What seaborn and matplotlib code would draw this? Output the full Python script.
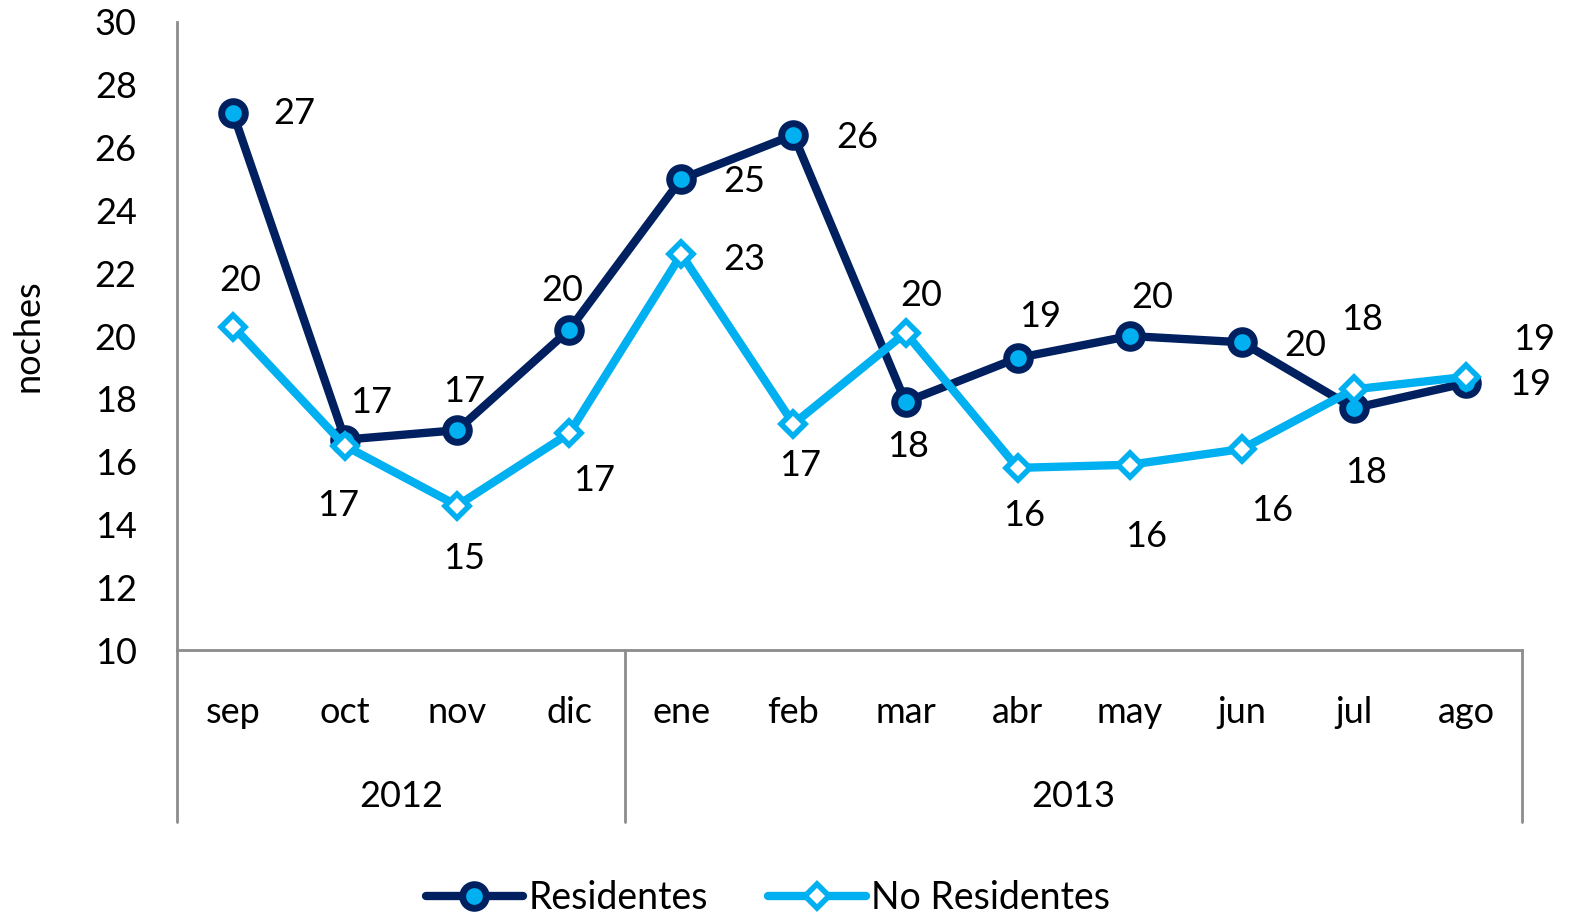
import matplotlib
matplotlib.use("Agg")
import matplotlib.pyplot as plt
import seaborn as sns
import pandas as pd
from matplotlib.lines import Line2D

months = ["sep", "oct", "nov", "dic", "ene", "feb", "mar", "abr", "may", "jun", "jul", "ago"]
years = ["2012", "2013"]
year_sizes = [4, 8]
residentes = [27.1, 16.7, 17.0, 20.2, 25.0, 26.4, 17.9, 19.3, 20.0, 19.8, 17.7, 18.5]
no_residentes = [20.3, 16.5, 14.6, 16.9, 22.6, 17.2, 20.1, 15.8, 15.9, 16.4, 18.3, 18.7]
res_labels = ["27", "17", "17", "20", "25", "26", "18", "19", "20", "20", "18", "19"]
nores_labels = ["20", "17", "15", "17", "23", "17", "20", "16", "16", "16", "18", "19"]

NAVY = "#002060"
CYAN = "#00B0F0"
GRID = "#8C8C8C"
FS = 26

sns.set_theme(style="white")
plt.rcParams["font.family"] = ["Lato", "DejaVu Sans"]
plt.rcParams["text.color"] = "black"

fig = plt.figure(figsize=(15.77, 9.23), dpi=100)
ax = fig.add_axes([177/1577, 1 - 650/923, (1522-177)/1577, (650-22)/923])

df = pd.DataFrame({"x": list(range(len(months))), "res": residentes, "nores": no_residentes})

sns.lineplot(data=df, x="x", y="res", ax=ax, color=NAVY, linewidth=6,
             marker="o", markersize=17, markerfacecolor=CYAN, markeredgecolor=NAVY,
             markeredgewidth=5, zorder=3)
sns.lineplot(data=df, x="x", y="nores", ax=ax, color=CYAN, linewidth=6,
             marker="D", markersize=12, markerfacecolor="white", markeredgecolor=CYAN,
             markeredgewidth=4, zorder=4)

ax.set_xlim(-0.5, 11.5)
ax.set_ylim(10, 30)
ax.set_yticks(range(10, 31, 2))
ax.tick_params(axis="y", labelsize=FS, length=0, pad=29, colors="black")
ax.set_xticks([])
ax.set_xlabel("")
ax.set_ylabel("noches", fontsize=FS, labelpad=36, color="black")
for s in ["top", "right"]:
    ax.spines[s].set_visible(False)
for s in ["left", "bottom"]:
    ax.spines[s].set_color(GRID)
    ax.spines[s].set_linewidth(2)

# data labels (offsets in points)
res_off = [(44, 0), (19, 27), (5, 28), (-5, 28), (45, -2), (46, -2), (2, -32), (16, 30), (16, 28), (46, -2), (9, -46), (46, -1)]
nores_off = [(5, 33), (-5, -43), (5, -38), (18, -34), (45, -4), (5, -30), (11, 27), (5, -34), (12, -52), (22, -44), (6, 50), (49, 27)]
for i in range(len(months)):
    ax.annotate(res_labels[i], (i, residentes[i]), xytext=res_off[i], textcoords="offset points",
                ha="center", va="center", fontsize=FS, color="black", zorder=6)
    ax.annotate(nores_labels[i], (i, no_residentes[i]), xytext=nores_off[i], textcoords="offset points",
                ha="center", va="center", fontsize=FS, color="black", zorder=6)

# category band
trans = ax.get_xaxis_transform()
for i, m in enumerate(months):
    ax.text(i, -0.099, m, transform=trans, ha="center", va="center", fontsize=FS, color="black")
start = 0
bounds = [-0.5]
for y, n in zip(years, year_sizes):
    ax.text(start + (n - 1) / 2, -0.234, y, transform=trans, ha="center", va="center", fontsize=FS, color="black")
    start += n
    bounds.append(start - 0.5)
for b in bounds:
    ax.plot([b, b], [0, -0.274], transform=trans, color=GRID, linewidth=2, clip_on=False)

handles = [
    Line2D([0], [0], color=NAVY, linewidth=6, marker="o", markersize=17, markerfacecolor=CYAN,
           markeredgecolor=NAVY, markeredgewidth=5),
    Line2D([0], [0], color=CYAN, linewidth=6, marker="D", markersize=12, markerfacecolor="white",
           markeredgecolor=CYAN, markeredgewidth=4),
]
leg = fig.legend(handles, ["Residentes", "No Residentes"], loc="center", bbox_to_anchor=(768/1577, 1 - 898/923),
                 ncol=2, frameon=False, fontsize=FS + 1, handlelength=2.6, columnspacing=1.6, handletextpad=0.15)
for t in leg.get_texts():
    t.set_color("black")

fig.savefig("out.png", dpi=100)
